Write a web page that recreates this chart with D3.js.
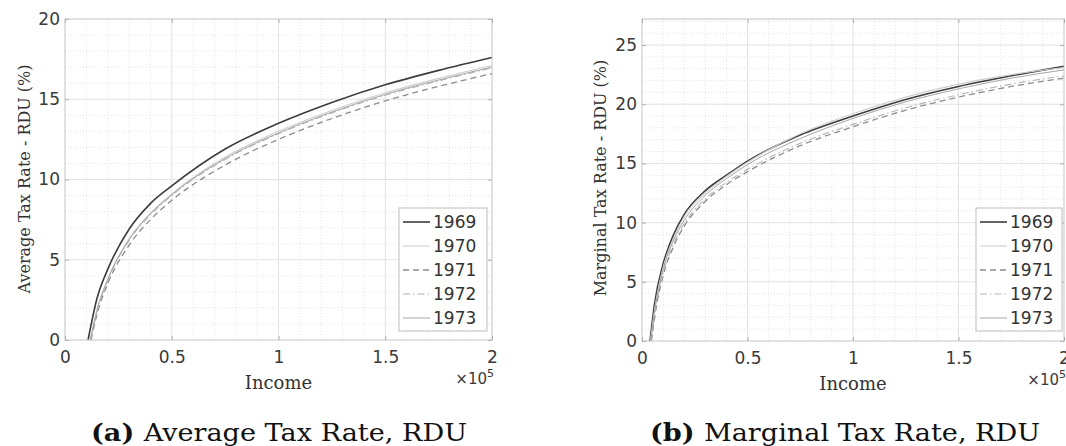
<!DOCTYPE html>
<html>
<head>
<meta charset="utf-8">
<script src="https://cdn.jsdelivr.net/npm/d3@7"></script>
<style>
  body { margin: 0; background: #fff; }
  svg { display: block; }
</style>
</head>
<body>
<svg id="fig" width="1066" height="446"></svg>
<script>

// years shown in both panels
const years = ["1969", "1970", "1971", "1972", "1973"];

// income grid (same for all series) and the income where each series leaves zero
const avgIncome = [15000, 20000, 30000, 40000, 50000, 75000, 100000, 125000, 150000, 175000, 200000];
const avgStart = [10800, 11800, 12200, 12000, 11900];
const avg1969 = [2.6, 4.4, 6.9, 8.5, 9.6, 11.9, 13.5, 14.8, 15.9, 16.8, 17.6];
const avg1970 = [1.9, 3.8, 6.3, 7.9, 9.1, 11.4, 13.0, 14.3, 15.4, 16.3, 17.1];
const avg1971 = [1.6, 3.5, 5.9, 7.5, 8.7, 10.9, 12.5, 13.8, 14.9, 15.8, 16.6];
const avg1972 = [1.8, 3.7, 6.2, 7.8, 9.0, 11.25, 12.85, 14.15, 15.25, 16.15, 16.95];
const avg1973 = [1.85, 3.75, 6.25, 7.85, 9.05, 11.3, 12.9, 14.2, 15.3, 16.2, 17.0];

const margIncome = [6000, 10000, 15000, 20000, 30000, 40000, 50000, 75000, 100000, 125000, 150000, 175000, 200000];
const margStart = [3800, 4000, 4500, 4400, 4200];
const marg1969 = [3.2, 6.5, 9.0, 10.7, 12.7, 14.0, 15.2, 17.4, 19.0, 20.4, 21.5, 22.4, 23.2];
const marg1970 = [2.7, 6.2, 8.7, 10.5, 12.5, 13.9, 15.1, 17.5, 19.2, 20.6, 21.7, 22.5, 23.1];
const marg1971 = [2.0, 5.5, 8.0, 9.7, 11.8, 13.2, 14.3, 16.5, 18.1, 19.5, 20.6, 21.5, 22.2];
const marg1972 = [2.2, 5.7, 8.2, 9.9, 12.0, 13.4, 14.5, 16.7, 18.3, 19.7, 20.8, 21.7, 22.4];
const marg1973 = [2.5, 6.0, 8.5, 10.2, 12.3, 13.7, 14.9, 17.1, 18.8, 20.2, 21.3, 22.2, 22.9];

// tick labels
const xTicks = [0, 50000, 100000, 150000, 200000];
const xTickLabels = ["0", "0.5", "1", "1.5", "2"];
const avgYTicks = [0, 5, 10, 15, 20];
const margYTicks = [0, 5, 10, 15, 20, 25];

// line styles per year
const styles = [
  { color: "#3c3c3c", width: 1.6, dash: null },
  { color: "#cfcfcf", width: 1.1, dash: null },
  { color: "#8c8c8c", width: 1.3, dash: "6,4" },
  { color: "#b4b4b4", width: 1.1, dash: "7,3,1.5,3" },
  { color: "#a6a6a6", width: 1.0, dash: null }
];

const svg = d3.select("#fig");
const tickFont = "'DejaVu Sans', sans-serif";
const serif = "'DejaVu Serif', serif";

function seriesOf(income, start, vals) {
  return [{ x: start, y: 0 }].concat(income.map((x, i) => ({ x: x, y: vals[i] })));
}

function drawPanel(cfg) {
  const x = d3.scaleLinear().domain([0, 200000]).range([cfg.left, cfg.right]);
  const y = d3.scaleLinear().domain([0, cfg.yMax]).range([cfg.bottom, cfg.top]);
  const g = svg.append("g");

  // minor grid (dotted)
  const minorX = d3.range(10000, 200000, 10000).filter(v => v % 50000 !== 0);
  const minorY = d3.range(1, cfg.yMax, 1).filter(v => v % 5 !== 0);
  g.append("g").selectAll("line").data(minorX).join("line")
    .attr("x1", d => x(d)).attr("x2", d => x(d))
    .attr("y1", cfg.top).attr("y2", cfg.bottom)
    .attr("stroke", "#e4e4e4").attr("stroke-dasharray", "1,2");
  g.append("g").selectAll("line").data(minorY).join("line")
    .attr("x1", cfg.left).attr("x2", cfg.right)
    .attr("y1", d => y(d)).attr("y2", d => y(d))
    .attr("stroke", "#e4e4e4").attr("stroke-dasharray", "1,2");

  // major grid
  g.append("g").selectAll("line").data(xTicks.slice(1, -1)).join("line")
    .attr("x1", d => x(d)).attr("x2", d => x(d))
    .attr("y1", cfg.top).attr("y2", cfg.bottom)
    .attr("stroke", "#e2e2e2");
  g.append("g").selectAll("line").data(cfg.yTicks.filter(v => v > 0 && v < cfg.yMax)).join("line")
    .attr("x1", cfg.left).attr("x2", cfg.right)
    .attr("y1", d => y(d)).attr("y2", d => y(d))
    .attr("stroke", "#e2e2e2");

  // curves
  const line = d3.line().x(d => x(d.x)).y(d => y(d.y)).curve(d3.curveMonotoneX);
  cfg.series.forEach((s, i) => {
    g.append("path")
      .datum(s)
      .attr("d", line)
      .attr("fill", "none")
      .attr("stroke", styles[i].color)
      .attr("stroke-width", styles[i].width)
      .attr("stroke-dasharray", styles[i].dash);
  });

  // axes box
  g.append("rect")
    .attr("x", cfg.left).attr("y", cfg.top)
    .attr("width", cfg.right - cfg.left).attr("height", cfg.bottom - cfg.top)
    .attr("fill", "none").attr("stroke", "#c4c4c4");

  // ticks and labels
  const styleAxis = sel => {
    sel.select(".domain").remove();
    sel.selectAll(".tick line").attr("stroke", "#b0b0b0");
    sel.selectAll("text").attr("fill", "#3a3a3a")
      .style("font-family", tickFont).style("font-size", "17px");
  };
  g.append("g").attr("transform", `translate(0,${cfg.bottom})`)
    .call(d3.axisBottom(x).tickValues(xTicks).tickSize(-4).tickPadding(11)
      .tickFormat((d, i) => xTickLabels[i]))
    .call(styleAxis);
  g.append("g").attr("transform", `translate(0,${cfg.top})`)
    .call(d3.axisTop(x).tickValues(xTicks).tickSize(-4).tickFormat(""))
    .call(styleAxis);
  g.append("g").attr("transform", `translate(${cfg.left},0)`)
    .call(d3.axisLeft(y).tickValues(cfg.yTicks).tickSize(-4).tickPadding(5))
    .call(styleAxis);
  g.append("g").attr("transform", `translate(${cfg.right},0)`)
    .call(d3.axisRight(y).tickValues(cfg.yTicks).tickSize(-4).tickFormat(""))
    .call(styleAxis);

  // x10^5 exponent
  const ex = g.append("text")
    .attr("x", cfg.right + 2).attr("y", cfg.bottom + 44)
    .attr("text-anchor", "end")
    .attr("fill", "#3a3a3a")
    .style("font-family", tickFont).style("font-size", "15px");
  ex.append("tspan").text("\u00d710");
  ex.append("tspan").attr("dy", -7).style("font-size", "11px").text("5");

  // axis labels
  g.append("text")
    .attr("x", (cfg.left + cfg.right) / 2).attr("y", cfg.bottom + 49)
    .attr("text-anchor", "middle").attr("fill", "#333")
    .style("font-family", serif).style("font-size", "18px")
    .text("Income");
  g.append("text")
    .attr("transform", `translate(${cfg.ylabelX},${cfg.ylabelY}) rotate(-90)`)
    .attr("text-anchor", "middle").attr("fill", "#333")
    .style("font-family", serif).style("font-size", "16px")
    .text(cfg.ylabel);

  // legend
  const lg = g.append("g").attr("transform", `translate(${cfg.legendX},208)`);
  lg.append("rect").attr("width", cfg.legendW).attr("height", 123)
    .attr("fill", "#fff").attr("stroke", "#bdbdbd");
  years.forEach((yr, i) => {
    const yy = 14 + i * 24;
    lg.append("line")
      .attr("x1", 4).attr("x2", 31).attr("y1", yy).attr("y2", yy)
      .attr("stroke", styles[i].color)
      .attr("stroke-width", styles[i].width)
      .attr("stroke-dasharray", styles[i].dash);
    lg.append("text")
      .attr("x", 34).attr("y", yy + 6)
      .attr("fill", "#333")
      .style("font-family", tickFont).style("font-size", "17px")
      .text(yr);
  });

  // caption, a little wider than the font's natural width
  const cap = svg.append("text")
    .attr("transform", `translate(${cfg.captionX},441) scale(1.13,1)`)
    .attr("text-anchor", "middle").attr("fill", "#111")
    .style("font-family", serif).style("font-size", "24px");
  cap.append("tspan").style("font-weight", "bold").text(cfg.captionTag + " ");
  cap.append("tspan").text(cfg.caption);
}

drawPanel({
  left: 65, right: 492, top: 19, bottom: 340, yMax: 20,
  yTicks: avgYTicks,
  ylabel: "Average Tax Rate - RDU (%)", ylabelX: 30, ylabelY: 179,
  legendX: 399, legendW: 88,
  captionX: 279, captionTag: "(a)", caption: "Average Tax Rate, RDU",
  series: [
    seriesOf(avgIncome, avgStart[0], avg1969),
    seriesOf(avgIncome, avgStart[1], avg1970),
    seriesOf(avgIncome, avgStart[2], avg1971),
    seriesOf(avgIncome, avgStart[3], avg1972),
    seriesOf(avgIncome, avgStart[4], avg1973)
  ]
});

drawPanel({
  left: 642, right: 1064, top: 19, bottom: 341, yMax: 27.2,
  yTicks: margYTicks,
  ylabel: "Marginal Tax Rate - RDU (%)", ylabelX: 606, ylabelY: 178,
  legendX: 976, legendW: 86,
  captionX: 845, captionTag: "(b)", caption: "Marginal Tax Rate, RDU",
  series: [
    seriesOf(margIncome, margStart[0], marg1969),
    seriesOf(margIncome, margStart[1], marg1970),
    seriesOf(margIncome, margStart[2], marg1971),
    seriesOf(margIncome, margStart[3], marg1972),
    seriesOf(margIncome, margStart[4], marg1973)
  ]
});

</script>
</body>
</html>
